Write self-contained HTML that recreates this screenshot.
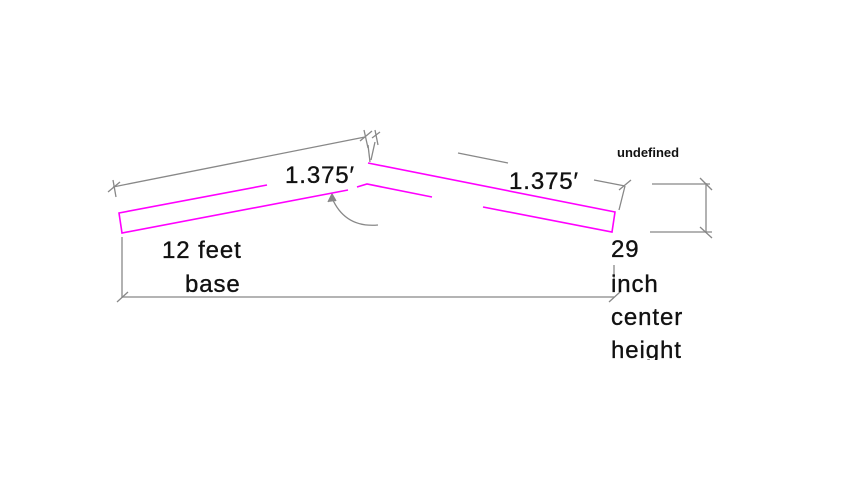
<!DOCTYPE html>
<html><head><meta charset="utf-8"><style>
html,body{margin:0;padding:0;background:#fff;}
svg{display:block;}
text{font-family:"Liberation Sans",sans-serif;fill:#111;}
.big{font-size:24px;letter-spacing:0.9px;stroke:#111;stroke-width:0.35px;}
</style></head><body>
<svg width="848" height="480" viewBox="0 0 848 480">
<defs><clipPath id="clipH"><rect x="0" y="0" width="848" height="360"/></clipPath></defs>
<g stroke="#888" stroke-width="1.3" fill="none">
<line x1="113" y1="187" x2="365" y2="137"/>
<line x1="108" y1="192" x2="120" y2="182"/><line x1="113" y1="180" x2="116" y2="197"/>
<line x1="360" y1="141" x2="372" y2="131"/><line x1="364" y1="130" x2="368" y2="148"/>
<line x1="372" y1="138" x2="380" y2="132"/><line x1="375" y1="130" x2="378" y2="145"/>
<line x1="368" y1="145" x2="370" y2="162"/><line x1="375" y1="142" x2="371" y2="160"/>
<line x1="458" y1="153" x2="508" y2="163"/>
<line x1="594" y1="180" x2="625" y2="186"/>
<line x1="619" y1="190" x2="631" y2="180"/><line x1="625" y1="186" x2="619" y2="210"/>
<line x1="652" y1="184" x2="710" y2="184"/>
<line x1="650" y1="232" x2="712" y2="232"/>
<line x1="706" y1="183" x2="706" y2="233"/>
<line x1="700" y1="178" x2="712" y2="190"/><line x1="700" y1="227" x2="712" y2="238"/>
<line x1="122" y1="237" x2="122" y2="298"/>
<line x1="122" y1="297" x2="614" y2="297"/>
<line x1="117" y1="302" x2="128" y2="292"/>
<line x1="609" y1="302" x2="620" y2="292"/>
<line x1="614" y1="265" x2="614" y2="290"/>
<path d="M378 225 Q345 228 332 198"/>
<path d="M328 202 L332 194 L336 201" fill="#888"/>
</g>
<g stroke="#f0f" stroke-width="1.6" fill="none">
<polyline points="267,185 119,213 122,233 348,190"/>
<polyline points="368,163 615,212 612,232 483,207"/>
<polyline points="357,187 367,184 432,197"/>
</g>
<text x="285" y="183" class="big">1.375′</text>
<text x="509" y="189" class="big">1.375′</text>
<text x="617" y="157" font-size="13" font-weight="bold">undefined</text>
<text x="162" y="258" class="big">12 feet</text>
<text x="185" y="292" class="big">base</text>
<g clip-path="url(#clipH)">
<text x="611" y="257" class="big">29</text>
<text x="611" y="292" class="big">inch</text>
<text x="611" y="325" class="big">center</text>
<text x="611" y="358" class="big">height</text>
</g>
</svg>
</body></html>
